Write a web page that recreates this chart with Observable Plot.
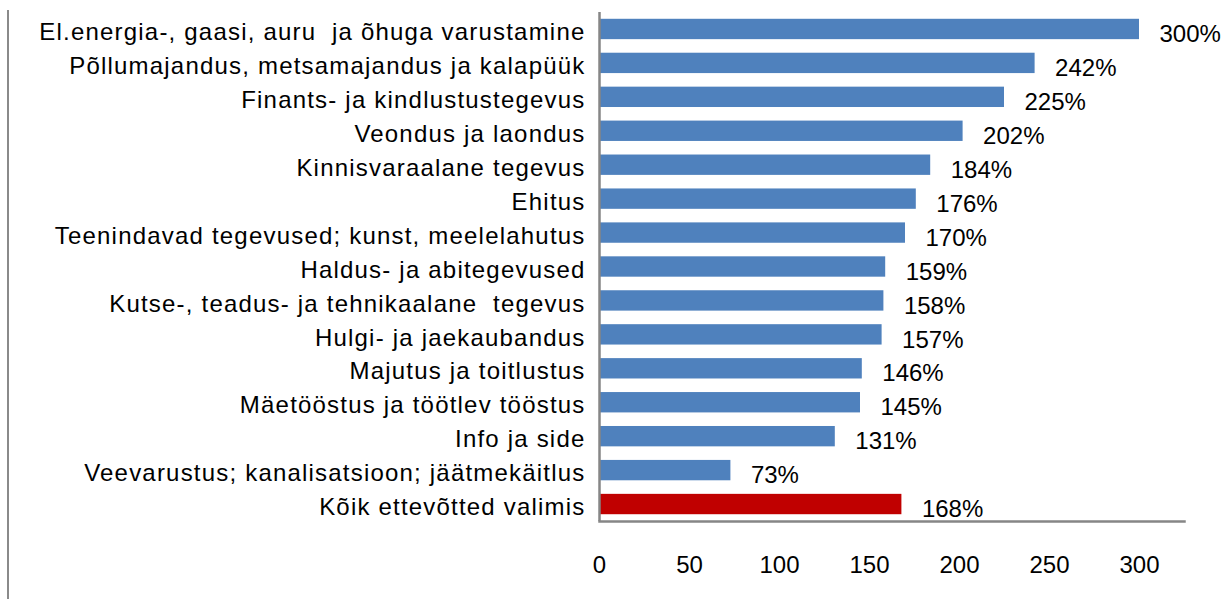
<!DOCTYPE html>
<html>
<head>
<meta charset="utf-8">
<script src="https://cdn.jsdelivr.net/npm/d3@7"></script>
<script src="https://cdn.jsdelivr.net/npm/@observablehq/plot@0.6"></script>
<style>
  html, body { margin: 0; padding: 0; background: #fff; }
  #wrap { position: relative; width: 1226px; height: 599px; overflow: hidden; }
  #frame { position: absolute; left: 7px; top: 10px; width: 0; height: 600px; border-left: 2px solid #8a8a8a; }
  #chart { position: absolute; left: 0; top: 0; }
  #chart text { white-space: pre; }
  #chart g[aria-label="y-axis tick label"] text { letter-spacing: 1.2px; }
</style>
</head>
<body>
<div id="wrap"><div id="frame"></div><div id="chart"></div></div>
<script>
const categories = [
  "El.energia-, gaasi, auru  ja õhuga varustamine",
  "Põllumajandus, metsamajandus ja kalapüük",
  "Finants- ja kindlustustegevus",
  "Veondus ja laondus",
  "Kinnisvaraalane tegevus",
  "Ehitus",
  "Teenindavad tegevused; kunst, meelelahutus",
  "Haldus- ja abitegevused",
  "Kutse-, teadus- ja tehnikaalane  tegevus",
  "Hulgi- ja jaekaubandus",
  "Majutus ja toitlustus",
  "Mäetööstus ja töötlev tööstus",
  "Info ja side",
  "Veevarustus; kanalisatsioon; jäätmekäitlus",
  "Kõik ettevõtted valimis"
];
const values = [300, 242, 225, 202, 184, 176, 170, 159, 158, 157, 146, 145, 131, 73, 168];
const highlight = "Kõik ettevõtted valimis";
const xTicks = [0, 50, 100, 150, 200, 250, 300];

const data = categories.map((c, i) => ({category: c, value: values[i]}));

const chart = Plot.plot({
  width: 1226,
  height: 599,
  marginLeft: 599,
  marginRight: 42,
  marginTop: 12,
  marginBottom: 78,
  style: {fontFamily: "'Liberation Sans', Arial, sans-serif", fontSize: "24px", color: "#000", background: "transparent"},
  x: {domain: [0, 325], ticks: xTicks, tickSize: 0, label: null, tickFormat: d => String(d)},
  y: {domain: categories, paddingInner: 0.4, paddingOuter: 0.2, round: false, label: null},
  marks: [
    Plot.barX(data, {x: "value", y: "category", fill: d => d.category === highlight ? "#C00000" : "#4F81BD"}),
    Plot.text(data, {x: "value", y: "category", text: d => d.value + "%", textAnchor: "start", dx: 20, dy: 5, fill: "#000", fontSize: 24}),
    Plot.ruleX([0], {stroke: "#868686", strokeWidth: 2.5}),
    Plot.frame({anchor: "bottom", stroke: "#868686", strokeWidth: 2.5}),
    Plot.axisX({ticks: xTicks, tickSize: 0, tickPadding: 34, fontSize: 24, label: null, tickFormat: d => String(d)}),
    Plot.axisY({tickSize: 0, tickPadding: 14, fontSize: 24, dy: 3, label: null})
  ]
});
document.getElementById("chart").appendChild(chart);
</script>
</body>
</html>
